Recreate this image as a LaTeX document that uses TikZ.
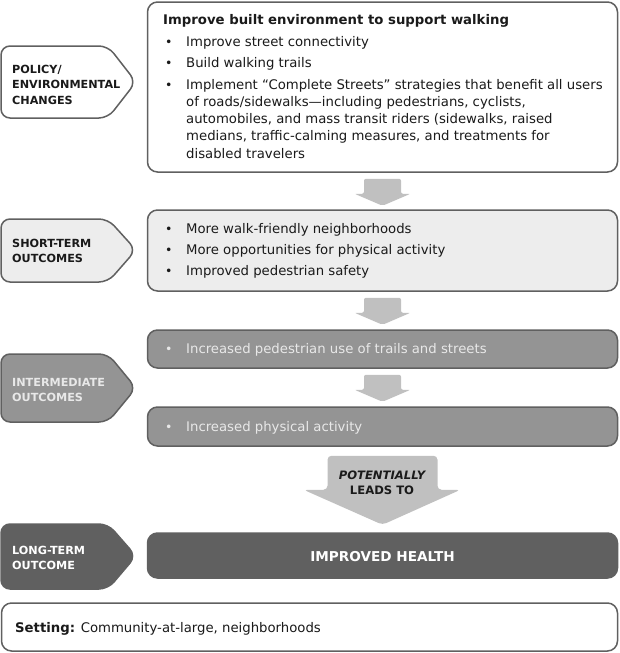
\documentclass[tikz,border=0pt]{standalone}
\usepackage{fontspec}
\setmainfont{DejaVu Sans}
\usetikzlibrary{calc}
\definecolor{bord}{HTML}{606060}
\definecolor{fillB}{HTML}{EDEDED}
\definecolor{fillC}{HTML}{949494}
\definecolor{fillD}{HTML}{606060}
\definecolor{arrg}{HTML}{C0C0C0}
\definecolor{lighttxt}{HTML}{E8E8E8}
\definecolor{darktxt}{HTML}{1A1A1A}
\begin{document}
\begin{tikzpicture}[x=1pt,y=-1pt,
  box/.style={draw=bord, line width=1.5pt, rounded corners=10pt, inner sep=0pt},
  tagshape/.style={draw=bord, line width=1.5pt, rounded corners=9pt},
  txt/.style={anchor=base west, inner sep=0pt, font=\fontsize{13.25}{17.3}\selectfont, text=darktxt},
  bul/.style={anchor=base west, inner sep=0pt, font=\fontsize{12.5}{17.3}\selectfont, text=darktxt},
  tagtxt/.style={anchor=base west, inner sep=0pt, font=\fontsize{11.2}{15.5}\selectfont\bfseries, text=darktxt},
  arr/.style={fill=arrg, rounded corners=2pt},
]
\useasboundingbox (0,0) rectangle (620,653);

% ---------- boxes ----------
\node[box, fill=white, minimum width=470pt, minimum height=170pt] (b1) at (382.5,87) {};
\node[box, fill=fillB, minimum width=470pt, minimum height=81pt] (b2) at (382.5,250.5) {};
\node[box, fill=fillC, minimum width=470pt, minimum height=38pt] (b3) at (382.5,349) {};
\node[box, fill=fillC, minimum width=470pt, minimum height=39pt] (b4) at (382.5,426.5) {};
\node[box, draw=fillD, fill=fillD, minimum width=470pt, minimum height=45pt] (b5) at (382.5,555.5) {};
\node[box, fill=white, minimum width=616pt, minimum height=48pt] (b6) at (309.5,627) {};

% ---------- tags ----------
\draw[tagshape, fill=white] (1,82) -- (1,46) -- (108,46) -- (136,82) -- (108,118) -- (1,118) -- cycle;
\draw[tagshape, fill=fillB] (1,250) -- (1,219) -- (108,219) -- (136,250) -- (108,282) -- (1,282) -- cycle;
\draw[tagshape, fill=fillC] (1,388) -- (1,354) -- (108,354) -- (136,388) -- (108,422) -- (1,422) -- cycle;
\draw[tagshape, draw=fillD, fill=fillD] (1,556) -- (1,524) -- (108,524) -- (136,556) -- (108,589) -- (1,589) -- cycle;

\node[tagtxt] (l1) at (12,73) {\begin{tabular}[t]{@{}l@{}}POLICY/\\ENVIRONMENTAL\\CHANGES\end{tabular}};
\node[tagtxt] (l2) at (12,247) {\begin{tabular}[t]{@{}l@{}}SHORT-TERM\\OUTCOMES\end{tabular}};
\node[tagtxt, text=lighttxt] (l3) at (12,386) {\begin{tabular}[t]{@{}l@{}}INTERMEDIATE\\OUTCOMES\end{tabular}};
\node[tagtxt, text=white] (l4) at (12,554) {\begin{tabular}[t]{@{}l@{}}LONG-TERM\\OUTCOME\end{tabular}};

% ---------- arrows ----------
\coordinate (a1) at ($(b1.south)+(0,6)$);
\coordinate (a2) at ($(b2.south)+(0,6)$);
\coordinate (a3) at ($(b3.south)+(0,6)$);
\foreach \a in {a1,a2,a3}{
  \fill[arr, shift={(\a)}] (-18.5,0) -- (18.5,0) -- (18.5,15) -- (28,15) -- (0,27) -- (-28,15) -- (-18.5,15) -- cycle;
}
\coordinate (a4) at ($(b4.south)+(0,9)$);
\fill[arr, rounded corners=4pt, shift={(a4)}] (-55,0) -- (55,0) -- (55,34) -- (78,34) -- (0,69) -- (-79,34) -- (-55,34) -- cycle;
\node[anchor=base, inner sep=0pt, font=\fontsize{11.6}{15}\selectfont\bfseries\itshape, text=darktxt] (p1) at (382,479) {POTENTIALLY};
\node[anchor=base, inner sep=0pt, font=\fontsize{11.6}{15}\selectfont\bfseries, text=darktxt] (p2) at (382,494) {LEADS TO};

% ---------- box texts ----------
\node[txt] (t0) at (163,24) {\bfseries Improve built environment to support walking};
\node[bul] (u1) at (165,46) {\textbullet};
\node[txt] (t1) at (186,46) {Improve street connectivity};
\node[bul] (u2) at (165,67) {\textbullet};
\node[txt] (t2) at (186,67) {Build walking trails};
\node[bul] (u3) at (165,89) {\textbullet};
\node[txt] (t3) at (186,89) {\begin{tabular}[t]{@{}l@{}}Implement “Complete Streets” strategies that benefit all users\\of roads/sidewalks—including pedestrians, cyclists,\\automobiles, and mass transit riders (sidewalks, raised\\medians, traffic-calming measures, and treatments for\\disabled travelers\end{tabular}};

\node[bul] (u4) at (165,233) {\textbullet};
\node[txt] (t4) at (186,233) {More walk-friendly neighborhoods};
\node[bul] (u5) at (165,254) {\textbullet};
\node[txt] (t5) at (186,254) {More opportunities for physical activity};
\node[bul] (u6) at (165,275) {\textbullet};
\node[txt] (t6) at (186,275) {Improved pedestrian safety};

\node[bul, text=lighttxt] (u7) at (165,353) {\textbullet};
\node[txt, text=lighttxt] (t7) at (186,353) {Increased pedestrian use of trails and streets};
\node[bul, text=lighttxt] (u8) at (165,431) {\textbullet};
\node[txt, text=lighttxt] (t8) at (186,431) {Increased physical activity};

\node[anchor=base, inner sep=0pt, font=\fontsize{13.6}{17}\selectfont\bfseries, text=white] (t9) at (382.5,561) {IMPROVED HEALTH};

\node[txt] (t10) at (15,632) {\textbf{Setting:} Community-at-large, neighborhoods};
\end{tikzpicture}
\end{document}
